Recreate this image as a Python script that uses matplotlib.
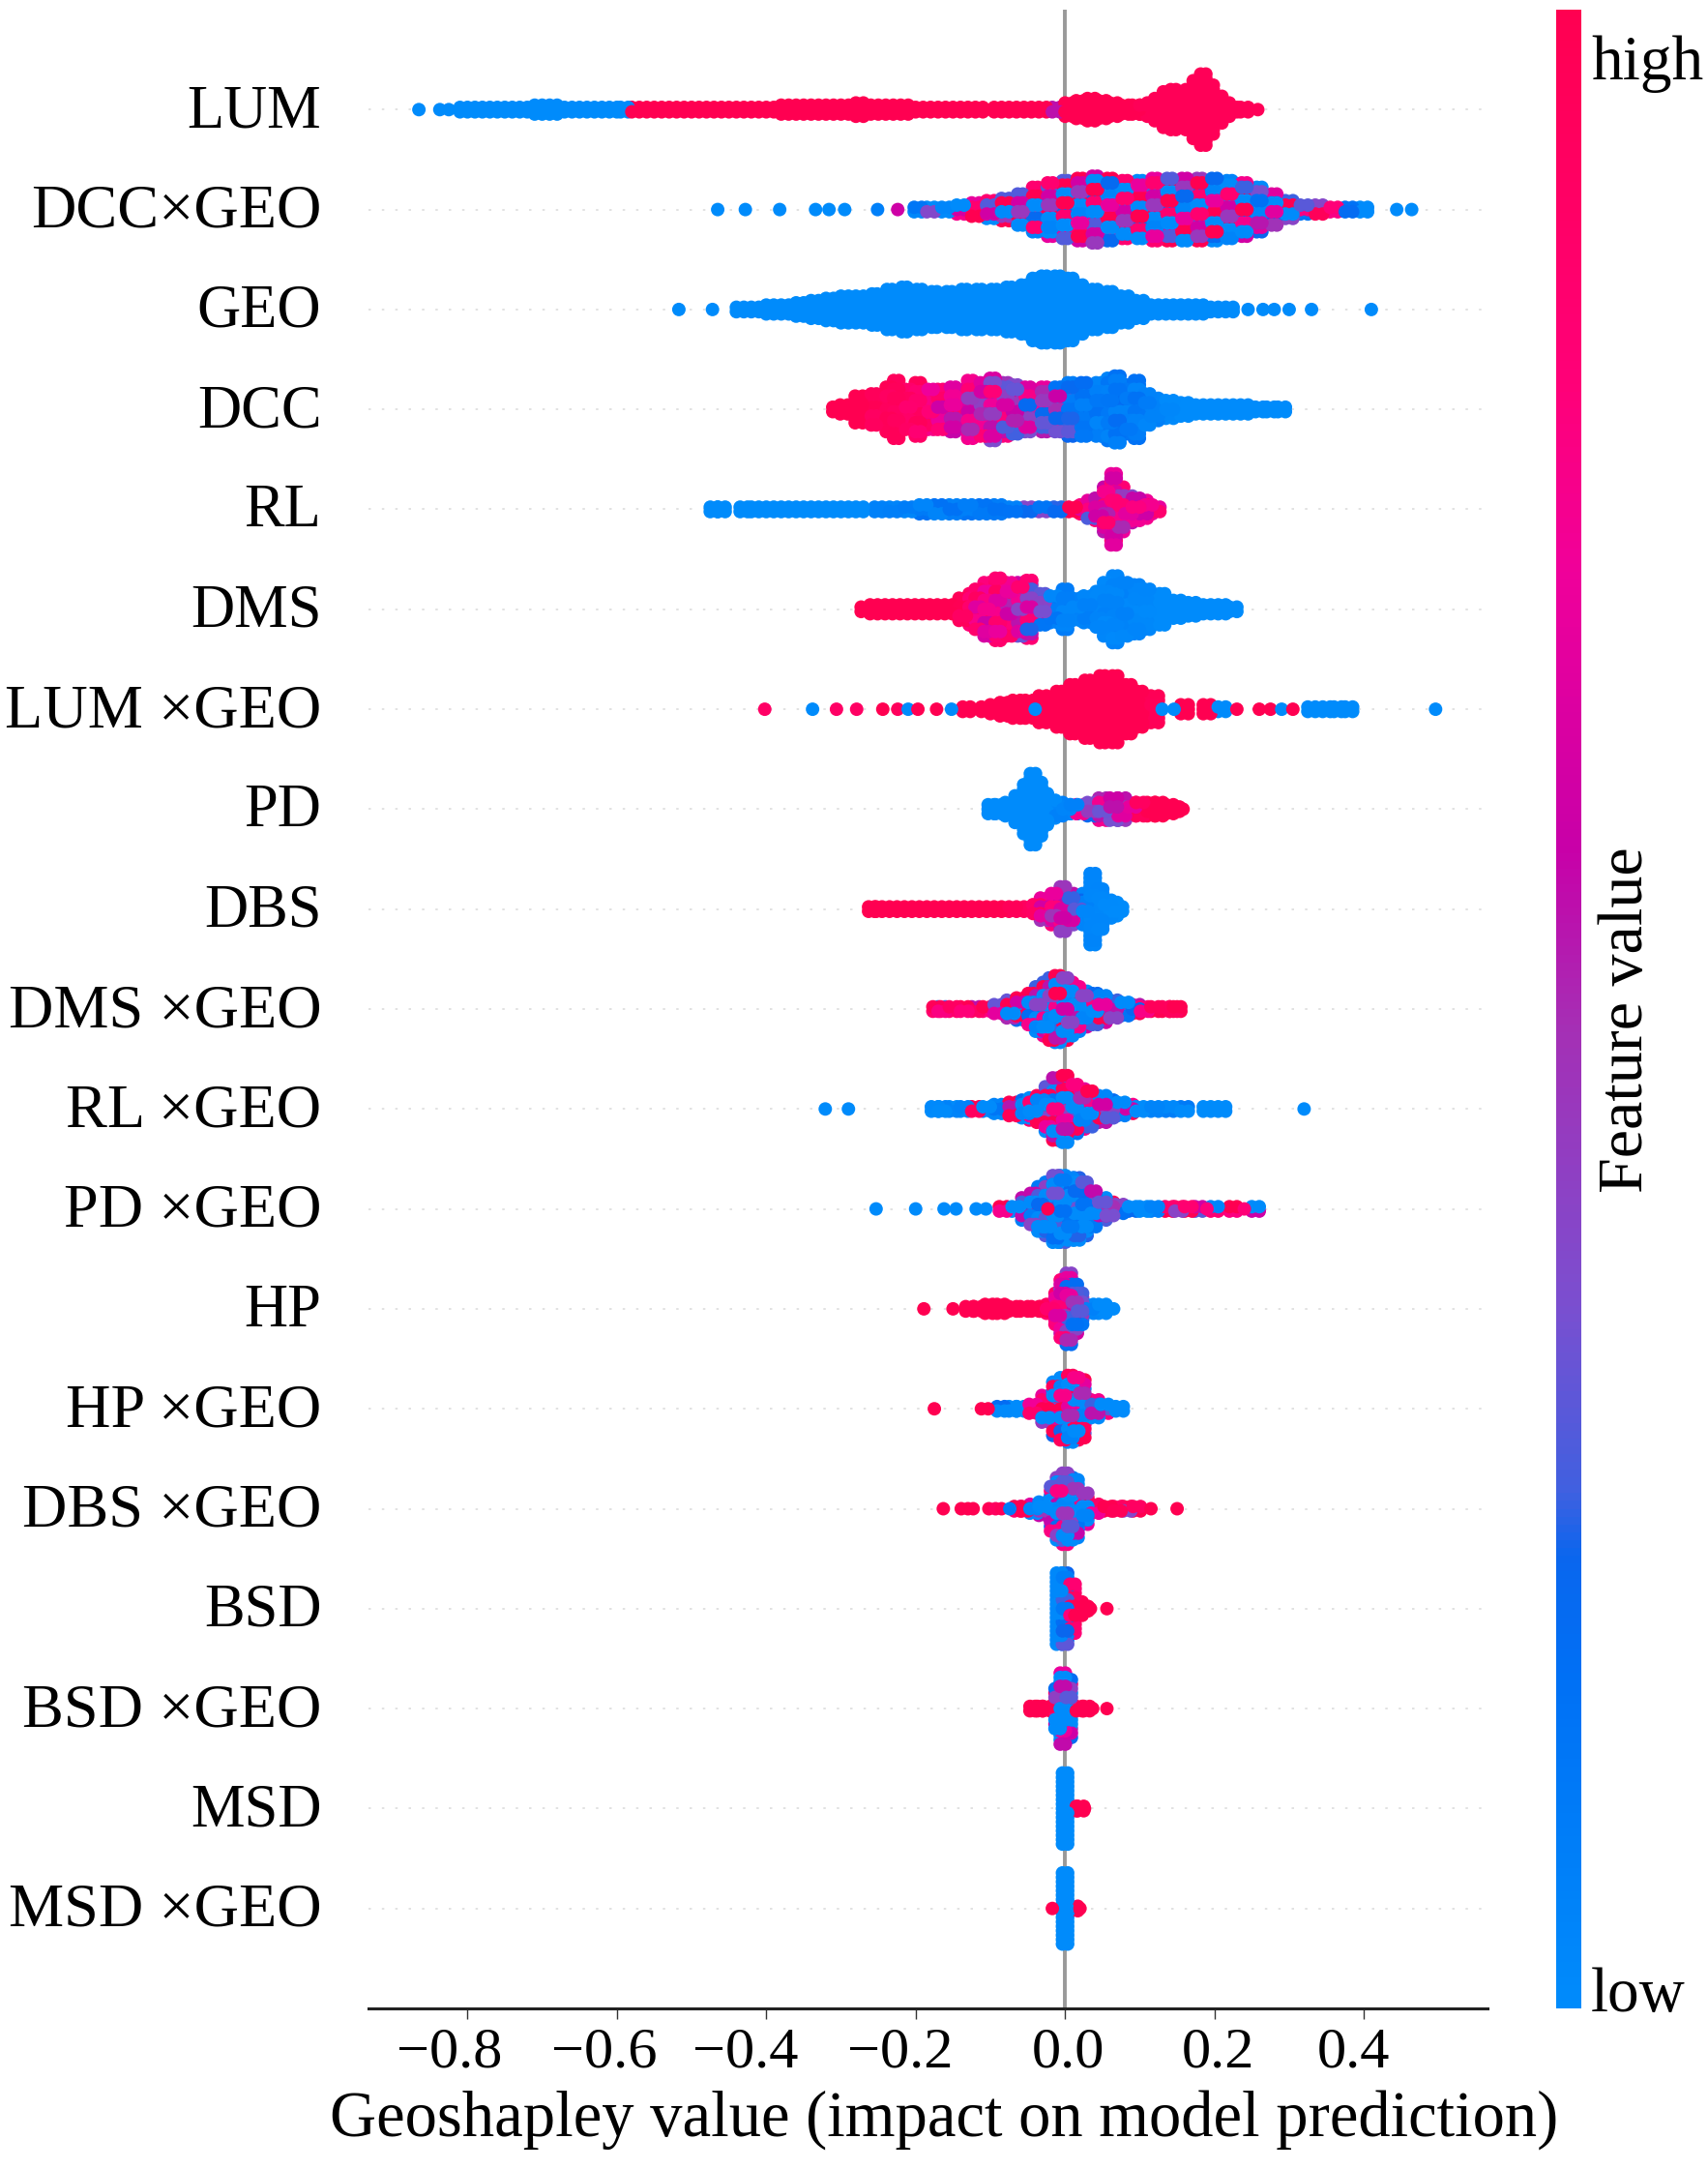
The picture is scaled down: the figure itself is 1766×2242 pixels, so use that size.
import numpy as np
import matplotlib
matplotlib.use('Agg')
import matplotlib.pyplot as plt
from matplotlib.cm import ScalarMappable
from matplotlib.colors import LinearSegmentedColormap, Normalize
from matplotlib.transforms import ScaledTranslation

plt.rcParams['font.family'] = ['Liberation Serif', 'DejaVu Serif']

# Features, top to bottom
features = ['LUM', 'DCC×GEO', 'GEO', 'DCC', 'RL', 'DMS', 'LUM ×GEO', 'PD', 'DBS',
            'DMS ×GEO', 'RL ×GEO', 'PD ×GEO', 'HP', 'HP ×GEO', 'DBS ×GEO', 'BSD',
            'BSD ×GEO', 'MSD', 'MSD ×GEO']
x_ticks = [-0.8, -0.6, -0.4, -0.2, 0.0, 0.2, 0.4]

# Each feature: geoshapley value of a stack, dots in the stack, feature value of the stack
lum_x = [-.865, -.837, -.825, -.805, -.785, -.765, -.745, -.725, -.705, -.685, -.665, -.645, -.625, -.605, -.59,
         -.575, -.555, -.535, -.515, -.495, -.475, -.455, -.435, -.415, -.395, -.375, -.355, -.335, -.315, -.295,
         -.275, -.255, -.235, -.215, -.195, -.175, -.155, -.135, -.115, -.09, -.07, -.05, -.03, -.012,
         .005, .02, .035, .05, .065, .08, .095, .105, .115, .125, .135, .145, .155, .165, .175, .185, .195, .205,
         .215, .225, .24, .258]
lum_n = [1, 1, 1, 2, 2, 2, 2, 2, 3, 3, 2, 2, 2, 2, 2,
         2, 2, 2, 2, 2, 2, 2, 2, 2, 2, 3, 3, 3, 3, 3,
         4, 3, 3, 3, 2, 2, 2, 2, 2, 2, 2, 2, 2, 2,
         4, 5, 6, 5, 4, 3, 3, 3, 4, 6, 9, 10, 9, 10, 14, 17, 12, 7,
         4, 2, 2, 1]
lum_v = [0, 0, 0, 0, 0, 0, 0, 0, 0, 0, 0, 0, 0, 0, 0,
         1, 1, 1, 1, 1, 1, 1, 1, 1, 1, 1, 1, 1, 1, 1,
         1, 1, 1, 1, 1, 1, 1, 1, 1, 1, 1, 1, 1, .55,
         1, 1, 1, 1, 1, 1, 1, .97, .97, .97, .97, .97, .97, .97, .97, .97, .97, .97,
         .97, .97, .97, .97]

dcc_geo_x = [-.465, -.428, -.382, -.334, -.316, -.295, -.251, -.224, -.197, -.18, -.16, -.14, -.12, -.1, -.08, -.06,
             -.04, -.02, 0, .02, .04, .06, .08, .1, .12, .14, .16, .18, .2, .22, .24, .26, .28, .3, .32, .34, .36,
             .38, .4, .444, .464]
dcc_geo_n = [1, 1, 1, 1, 1, 1, 1, 1, 2, 2, 2, 3, 4, 5, 6, 8,
             11, 13, 14, 15, 16, 15, 14, 14, 15, 15, 15, 15, 15, 14, 13, 11, 8, 5, 3, 3, 2,
             2, 2, 1, 1]
dcc_geo_v = [0, 0, 0, 0, 0, 0, .05, .6, .05, .2, .35, .4, .45, .45, .45, .45,
             .45, .45, .45, .45, .45, .45, .45, .45, .45, .45, .45, .45, .45, .45, .4, .35, .35, .4, .3, .6, .9,
             .1, 0, 0, 0]

geo_x = [-.517, -.472, -.435, -.415, -.395, -.375, -.355, -.335, -.315, -.295, -.275, -.255, -.235, -.215, -.195,
         -.175, -.155, -.135, -.115, -.095, -.075, -.055, -.04, -.028, -.01, .007, .02, .04, .06, .08, .1, .12, .14,
         .16, .18, .2, .22, .245, .265, .28, .3, .33, .41]
geo_n = [1, 1, 2, 2, 3, 3, 4, 5, 6, 7, 7, 8, 10, 11, 10,
         9, 9, 10, 10, 10, 11, 12, 15, 16, 16, 15, 12, 10, 9, 7, 5, 3, 3,
         3, 3, 2, 2, 1, 1, 1, 1, 1, 1]
geo_v = [0] * 43

dcc_x = [-.306, -.296, -.276, -.256, -.236, -.226, -.21, -.197, -.18, -.167, -.15, -.127, -.11, -.097, -.08, -.067,
         -.05, -.028, -.01, .007, .025, .045, .06, .07, .085, .096, .11, .12, .14, .16, .18, .2, .22, .24, .26, .275, .29]
dcc_n = [2, 3, 7, 8, 11, 14, 10, 13, 10, 10, 11, 14, 13, 15, 13, 12,
         11, 11, 11, 13, 13, 13, 15, 16, 12, 14, 8, 6, 5, 4, 3, 3, 3, 3, 2, 2, 2]
dcc_v = [1, 1, 1, .95, .95, .95, .9, .9, .8, .75, .7, .65, .62, .6, .55, .52,
         .5, .45, .38, .2, .12, .1, .1, .12, .1, .1, .08, .05, .02, 0, 0, 0, 0, 0, 0, 0, 0]

rl_x = [-.47, -.46, -.43, -.415, -.395, -.375, -.355, -.335, -.315, -.295, -.275, -.25, -.23, -.21, -.19, -.17,
        -.15, -.13, -.11, -.09, -.07, -.05, -.03, -.01, .01, .025, .035, .045, .055, .065, .075, .085, .095, .105,
        .112, .122]
rl_n = [2, 2, 2, 2, 2, 2, 2, 2, 2, 2, 2, 2, 2, 2, 3, 3,
        3, 3, 3, 3, 2, 2, 2, 2, 2, 3, 5, 6, 11, 17, 11, 7, 6, 5,
        3, 2]
rl_v = [0, 0, 0, 0, 0, 0, 0, 0, 0, 0, 0, .05, .05, .08, .1, .1,
        .12, .12, .12, .1, .15, .25, .3, .35, 1, .7, .55, .6, .7, .75, .65, .6, .7, .75,
        .75, .8]

dms_x = [-.268, -.256, -.236, -.216, -.196, -.176, -.156, -.137, -.125, -.117, -.105, -.09, -.075, -.06, -.048, -.03,
         -.015, 0, .015, .03, .045, .055, .067, .08, .096, .11, .13, .15, .17, .19, .21, .225]
dms_n = [2, 3, 3, 3, 3, 3, 3, 6, 8, 10, 13, 15, 13, 13, 14, 8,
         7, 10, 6, 7, 9, 13, 16, 13, 12, 10, 8, 5, 4, 3, 3, 2]
dms_v = [1, 1, 1, 1, 1, 1, 1, .95, .85, .8, .75, .8, .7, .6, .55, .35,
         .1, .08, .05, .05, .04, .04, .04, .04, .03, .02, 0, 0, 0, 0, 0, 0]

lum_geo_x = [-.402, -.338, -.306, -.279, -.244, -.224, -.21, -.197, -.172, -.152, -.132, -.107, -.095, -.082, -.065,
             -.048, -.04, -.03, -.008, .01, .03, .05, .067, .085, .1, .12, .13, .146, .16, .19, .21, .23, .26, .275,
             .29, .305, .33, .35, .365, .38, .496]
lum_geo_n = [1, 1, 1, 1, 1, 1, 1, 1, 1, 1, 2, 2, 3, 4, 5,
             5, 1, 7, 9, 12, 14, 16, 16, 12, 9, 7, 1, 1, 3, 3, 2, 1, 1, 1,
             1, 1, 2, 2, 2, 2, 1]
lum_geo_v = [.92, 0, .92, .92, 1, .95, 0, 1, 1, 0, 1, 1, 1, 1, 1,
             1, 0, 1, 1, 1, 1, 1, 1, 1, 1, .97, 0, 0, 1, 1, 0, 1, 1, 1,
             0, 1, 0, 0, 0, 0, 0]

pd_x = [-.098, -.09, -.075, -.062, -.052, -.043, -.035, -.027, -.018, -.008, .002, .012, .02, .035, .05, .065, .076,
        .09, .1, .115, .126, .14, .148, .158]
pd_n = [3, 3, 4, 7, 12, 17, 13, 8, 5, 4, 3, 3, 3, 4, 6, 6, 6,
        4, 4, 4, 4, 3, 2, 1]
pd_v = [0, 0, 0, 0, 0, 0, 0, 0, 0, .05, .05, .1, .55, .4, .55, .55, .55,
        .75, .95, 1, 1, 1, 1, 1]

dbs_x = [-.258, -.25, -.23, -.21, -.19, -.17, -.15, -.13, -.11, -.09, -.07, -.05, -.038, -.028, -.015, -.003, .008,
         .017, .027, .037, .047, .057, .065, .072]
dbs_n = [2, 2, 2, 2, 2, 2, 2, 2, 2, 2, 2, 2, 3, 6, 8, 11, 8,
         5, 8, 17, 10, 5, 4, 2]
dbs_v = [1, 1, 1, 1, 1, 1, 1, 1, 1, 1, .97, .92, .85, .65, .65, .6, .5,
         .4, .05, .03, .03, .02, 0, 0]

dms_geo_x = [-.172, -.165, -.15, -.135, -.12, -.105, -.09, -.073, -.06, -.046, -.036, -.026, -.018, -.01, 0, .007, .016,
             .026, .04, .05, .065, .08, .095, .106, .12, .135, .145, .15]
dms_geo_n = [2, 2, 2, 2, 2, 2, 3, 5, 6, 8, 11, 13, 15, 16, 15, 13, 11,
             9, 8, 7, 5, 4, 3, 2, 2, 2, 2, 2]
dms_geo_v = [.95, .3, .95, .9, .8, .85, .5, .5, .45, .4, .4, .4, .4, .4, .4, .4, .4,
             .4, .42, .45, .4, .3, .7, .9, .9, .95, .98, 1]

rl_geo_x = [-.321, -.29, -.174, -.165, -.15, -.135, -.12, -.105, -.09, -.07, -.053, -.043, -.033, -.023, -.013, 0, .013,
            .023, .033, .05, .06, .075, .086, .1, .12, .14, .16, .19, .21, .32]
rl_geo_n = [1, 1, 2, 2, 2, 2, 2, 2, 3, 4, 5, 6, 7, 11, 15, 16, 12,
            10, 9, 7, 5, 4, 3, 2, 2, 2, 2, 2, 2, 1]
rl_geo_v = [.12, 0, .03, .03, .03, .03, .9, .03, .05, .7, .4, .45, .5, .55, .55, .55, .55,
            .5, .4, .4, .3, .15, .85, .03, .03, .03, .08, 0, 0, 0]

pd_geo_x = [-.253, -.2, -.162, -.146, -.119, -.106, -.083, -.066, -.053, -.043, -.033, -.023, -.023, -.013, -.003, .007,
            .016, .026, .038, .05, .06, .073, .09, .105, .12, .139, .152, .165, .179, .19, .2, .225, .24, .255]
pd_geo_n = [1, 1, 1, 1, 1, 1, 2, 2, 6, 8, 11, 13, 1, 16, 16, 15,
            15, 13, 9, 6, 4, 3, 2, 2, 2, 2, 2, 2, 2, 1, 2, 2, 1, 2]
pd_geo_v = [0, 0, 0, 0, 0, 0, .6, 0, .2, .2, .2, .15, 1, .12, .1, .1,
            .12, .15, .2, .2, .35, .4, .1, .05, .03, .9, .8, .85, .75, .9, .6, .85, .7, .6]

hp_x = [-.189, -.15, -.128, -.117, -.102, -.086, -.07, -.055, -.04, -.028, -.02, -.01, -.003, .005, .013, .02, .033,
        .05, .065]
hp_n = [1, 1, 2, 2, 3, 3, 2, 2, 2, 2, 3, 8, 14, 17, 12, 8, 3,
        3, 1]
hp_v = [1, 1, 1, 1, 1, 1, 1, 1, 1, 1, .9, .75, .6, .45, .4, .3, .05,
        0, 0]

hp_geo_x = [-.175, -.112, -.103, -.086, -.07, -.06, -.043, -.026, -.013, -.003, .007, .015, .023, .04, .053, .073]
hp_geo_n = [1, 1, 1, 2, 2, 2, 3, 7, 13, 15, 16, 15, 14, 5, 3, 2]
hp_geo_v = [1, 1, 1, .1, 0, 0, .8, .45, .5, .5, .5, .5, .5, .4, .3, 0]

dbs_geo_x = [-.163, -.139, -.13, -.123, -.102, -.093, -.085, -.074, -.063, -.055, -.042, -.03, -.016, -.008, 0, .007,
             .014, .027, .04, .057, .07, .083, .096, .115, .15]
dbs_geo_n = [1, 1, 1, 1, 1, 1, 1, 1, 2, 2, 3, 4, 11, 15, 17, 15,
             14, 8, 3, 2, 2, 2, 2, 1, 1]
dbs_geo_v = [1, 1, 1, 1, .95, .95, .95, .1, .9, .9, .35, .3, .3, .3, .3, .3,
             .3, .45, .8, .97, .97, .6, .97, 1, 1]

bsd_x = [-.008, .0, .01, .018, .026, .034, .056]
bsd_n = [17, 17, 12, 4, 2, 1, 1]
bsd_v = [.02, .2, .88, 1, 1, 1, 1]

bsd_geo_x = [-.042, -.035, -.025, -.01, -.003, .005, .02, .028, .037, .056]
bsd_geo_n = [2, 2, 2, 10, 17, 14, 2, 2, 1, 1]
bsd_geo_v = [1, 1, 1, .3, .35, .3, 1, 1, 1, 1]

msd_x = [0.0, .012, .02, .026]
msd_n = [17, 2, 2, 1]
msd_v = [0, 1, 1, 1]

msd_geo_x = [-.017, 0.0, .012, .02]
msd_geo_n = [1, 17, 2, 1]
msd_geo_v = [1, 0, 1, 1]

# How far the dots of a stack scatter around the stack's feature value
mix_levels = [0, .9, 0, .3, .3, .35, .1, .25, .25, .9, .9, 1, .3, .9, .9, .3, 1, 0, 0]
mix_cycle = [-1, .5, -.2, .9, -.7, .2, -.9, .5, 0, -.5, .9, -.3, .3]

columns = [(lum_x, lum_n, lum_v), (dcc_geo_x, dcc_geo_n, dcc_geo_v), (geo_x, geo_n, geo_v),
           (dcc_x, dcc_n, dcc_v), (rl_x, rl_n, rl_v), (dms_x, dms_n, dms_v),
           (lum_geo_x, lum_geo_n, lum_geo_v), (pd_x, pd_n, pd_v), (dbs_x, dbs_n, dbs_v),
           (dms_geo_x, dms_geo_n, dms_geo_v), (rl_geo_x, rl_geo_n, rl_geo_v), (pd_geo_x, pd_geo_n, pd_geo_v),
           (hp_x, hp_n, hp_v), (hp_geo_x, hp_geo_n, hp_geo_v), (dbs_geo_x, dbs_geo_n, dbs_geo_v),
           (bsd_x, bsd_n, bsd_v), (bsd_geo_x, bsd_geo_n, bsd_geo_v), (msd_x, msd_n, msd_v),
           (msd_geo_x, msd_geo_n, msd_geo_v)]

cmap = LinearSegmentedColormap.from_list('red_blue', [
    (0, '#008bfb'), (.165, '#0070f5'), (.225, '#0a66ee'), (.258, '#4060e0'), (.35, '#7a4fd0'),
    (.49, '#a52fb5'), (.58, '#c800a8'), (.72, '#f0009a'), (.813, '#ff0078'), (1, '#ff0051')])

W, H = 1766, 2242
fig = plt.figure(figsize=(W / 100, H / 100), dpi=100)
ax = fig.add_axes([381 / W, 1 - 2076 / H, (1538 - 381) / W, (2076 - 10) / H])

n_rows = len(features)
stack_step = 0.0445

ax.axvline(0, color='#999999', lw=2.8, zorder=1)
for i, name in enumerate(features):
    row_y = n_rows - 1 - i
    ax.axhline(row_y, color='#dddddd', lw=1.2, dashes=(1.5, 6.8), zorder=0)

    xs, ns, vs = columns[i]
    assert len(xs) == len(ns) == len(vs), name
    dots = []
    for c, (x, n, v) in enumerate(zip(xs, ns, vs)):
        stagger = .005 if n < 8 else .0035
        for k in range(n):
            spread = mix_levels[i] * mix_cycle[(k * 5 + c * 3) % 13] * (1 - abs(2 * v - 1))
            order = 99 if n == 1 else (k * 7 + c * 11) % 17
            y = row_y + (k - (n - 1) / 2) * stack_step
            # a stack is two dots wide, which closes the gaps along the thin tails
            shifts = [0] if n == 1 else [-stagger, stagger]
            for shift in shifts:
                dots.append((order, x + shift, y, v + spread))
    dots.sort(key=lambda d: d[0])
    dots = np.array(dots)
    ax.scatter(dots[:, 1], dots[:, 2], c=np.clip(dots[:, 3], 0, 1), cmap=cmap, vmin=0, vmax=1,
               s=101, linewidths=0, zorder=3)

ax.set_xlim(-0.9325, 0.5655)
ax.set_ylim(-1, n_rows)
ax.set_yticks(range(n_rows))
ax.set_yticklabels(features[::-1], fontsize=45)
ax.tick_params(axis='y', length=0, pad=35)
ax.set_xticks(x_ticks)
ax.tick_params(axis='x', labelsize=43.5, length=8, width=1, color='#333333', pad=6)
ax.set_xlabel('Geoshapley value (impact on model prediction)', fontsize=48)
ax.xaxis.set_label_coords(0.514, -0.0405)
for side in ['top', 'left', 'right']:
    ax.spines[side].set_visible(False)
ax.spines['bottom'].set_linewidth(2.2)
ax.spines['bottom'].set_color('#222222')

# The tick labels of the reference sit off their ticks, by these many pixels
label_nudge = [-18.7, -12.7, -21.6, -15.7, 3, 4, -10.7]
for label, dx in zip(ax.get_xticklabels(), label_nudge):
    label.set_transform(label.get_transform() + ScaledTranslation(dx / 100, 0, fig.dpi_scale_trans))
for label in ax.get_yticklabels():
    label.set_transform(label.get_transform() + ScaledTranslation(0, 4 / 100, fig.dpi_scale_trans))
    if '×' in label.get_text():
        label.set_fontsize(46.3)

cax = fig.add_axes([1609 / W, 1 - 2076 / H, 26 / W, (2076 - 10) / H])
cb = fig.colorbar(ScalarMappable(Normalize(0, 1), cmap), cax=cax)
cb.set_ticks([])
cb.outline.set_visible(False)

fig.text(1645 / W, 1 - 66 / H, 'high', fontsize=47, va='center', ha='left')
fig.text(1645 / W, 1 - 2063 / H, 'low', fontsize=47, va='center', ha='left')
fig.text(1682 / W, 1 - 1054 / H, 'Feature value', fontsize=47.5, rotation=90, va='center', ha='center')

fig.savefig('out.png', dpi=100)
